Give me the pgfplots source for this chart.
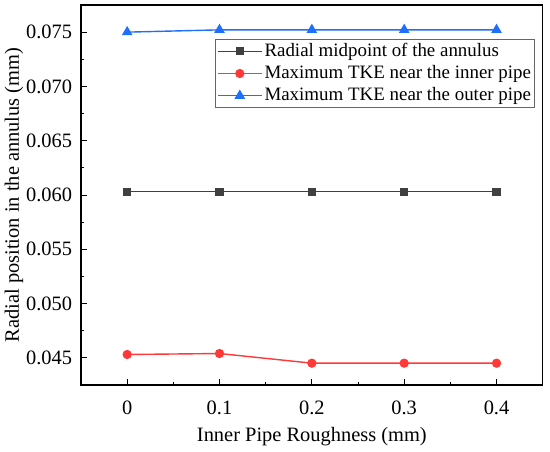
\documentclass[border=0pt]{standalone}
\usepackage{pgfplots}
\pgfplotsset{compat=1.18}
\usepackage{fontspec}
\setmainfont{Liberation Serif}
\definecolor{cblk}{HTML}{404040}
\definecolor{cred}{HTML}{FF3838}
\definecolor{cblu}{HTML}{1F6FFF}
\begin{document}
\fontsize{20.5}{24}\selectfont
\begin{tikzpicture}
\begin{axis}[
  scale only axis,
  width=461.7bp, height=380bp,
  at={(0,0)}, anchor=south west,
  xmin=-0.05, xmax=0.45,
  ymin=0.0425, ymax=0.0775,
  xtick={0,0.1,0.2,0.3,0.4},
  xticklabels={0,0.1,0.2,0.3,0.4},
  ytick={0.045,0.05,0.055,0.06,0.065,0.07,0.075},
  yticklabels={0.045,0.050,0.055,0.060,0.065,0.070,0.075},
  minor xtick={0.05,0.15,0.25,0.35},
  minor ytick={0.0475,0.0525,0.0575,0.0625,0.0675,0.0725},
  tick align=inside,
  major tick length=6bp, minor tick length=3.5bp,
  tick style={black, line width=0.9bp},
  axis line style={black, line width=1.1bp},
  xtick pos=bottom, ytick pos=left,
  tick label style={font=\fontsize{20.5}{24}\selectfont},
  label style={font=\fontsize{20.5}{24}\selectfont},
  yticklabel style={xshift=-2bp},
  xticklabel style={yshift=-9bp},
  xlabel={Inner Pipe Roughness (mm)},
  ylabel={Radial position in the annulus (mm)},
  xlabel style={yshift=1bp},
  ylabel style={yshift=-11bp},
  /pgf/number format/assume math mode=true,
  legend style={at={(0.983,0.910)}, anchor=north east, draw=gray!80!black, line width=0.7bp,
    font=\fontsize{19}{22}\selectfont, row sep=2bp, inner sep=1.5bp,
    cells={anchor=west}},
  legend image code/.code={\draw[#1, line width=1.4bp] (0bp,0bp) -- (44bp,0bp); \draw[#1, only marks] plot coordinates {(22bp,0bp)};},
]
\addplot[cblk, line width=1.4bp, mark=square*, mark size=3.5bp, mark options={solid}] coordinates {
(0,0.0603) (0.1,0.0603) (0.2,0.0603) (0.3,0.0603) (0.4,0.0603)};
\addlegendentry{Radial midpoint of the annulus}
\addplot[cred, line width=1.4bp, mark=*, mark size=3.9bp] coordinates {
(0,0.04531) (0.1,0.0454) (0.2,0.04451) (0.3,0.04451) (0.4,0.04451)};
\addlegendentry{Maximum TKE near the inner pipe}
\addplot[cblu, line width=1.4bp, mark=triangle*, mark size=4.8bp] coordinates {
(0,0.0750) (0.1,0.07521) (0.2,0.07521) (0.3,0.07521) (0.4,0.07521)};
\addlegendentry{Maximum TKE near the outer pipe}
\end{axis}
\pgfresetboundingbox
\path[use as bounding box] (-81bp,-67bp) rectangle (469bp,385bp);
\end{tikzpicture}
\end{document}
